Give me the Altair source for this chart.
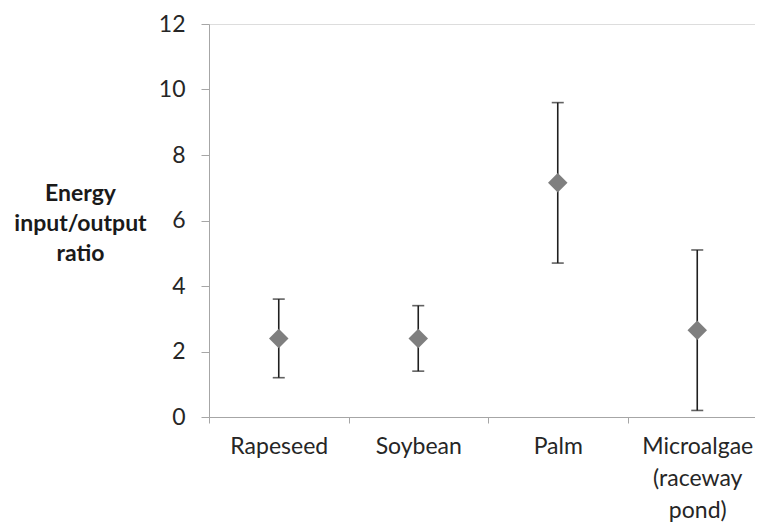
import altair as alt
import pandas as pd

categories = ["Rapeseed", "Soybean", "Palm", "Microalgae (raceway pond)"]
means = [2.4, 2.4, 7.15, 2.65]
lows = [1.2, 1.4, 4.7, 0.2]
highs = [3.6, 3.4, 9.6, 5.1]

df = pd.DataFrame({"cat": categories, "mean": means, "lo": lows, "hi": highs})

FONT = "Lato"
xscale = alt.Scale(domain=categories, range=[0, 558], paddingInner=0, paddingOuter=0)
yscale = alt.Scale(domain=[0, 12], nice=False)

x_enc = alt.X(
    "cat:N",
    sort=categories,
    scale=xscale,
    axis=alt.Axis(
        title=None,
        labelAngle=0,
        tickBand="extent",
        tickSize=6,
        domainColor="#a6a6a6",
        tickColor="#a6a6a6",
        labelColor="#262626",
        labelFont=FONT,
        labelFontSize=23,
        labelPadding=12,
        labelLineHeight=32,
        labelBaseline="top",
        labelExpr="datum.value == 'Microalgae (raceway pond)' ? ['Microalgae', '(raceway', 'pond)'] : datum.label",
    ),
)

y_enc = alt.Y(
    "lo:Q",
    scale=yscale,
    axis=alt.Axis(
        title=["Energy", "input/output", "ratio"],
        titleAngle=0,
        titleAlign="center",
        titleBaseline="middle",
        titleX=-129,
        titleY=169,
        titleFont=FONT,
        titleFontSize=23,
        titleFontWeight="bold",
        titleColor="#1a1a1a",
        titleLineHeight=30,
        values=[0, 2, 4, 6, 8, 10, 12],
        grid=False,
        tickSize=8,
        domainColor="#a6a6a6",
        tickColor="#a6a6a6",
        labelColor="#262626",
        labelFont=FONT,
        labelFontSize=23,
        labelPadding=16,
    ),
)

rules = alt.Chart(df).mark_rule(color="#1f1f1f", strokeWidth=1.6).encode(
    x=x_enc, y=y_enc, y2="hi:Q"
)
cap_lo = alt.Chart(df).mark_tick(color="#1f1f1f", thickness=1.6, size=12).encode(
    x=alt.X("cat:N", sort=categories, scale=xscale), y=alt.Y("lo:Q", scale=yscale)
)
cap_hi = alt.Chart(df).mark_tick(color="#1f1f1f", thickness=1.6, size=12).encode(
    x=alt.X("cat:N", sort=categories, scale=xscale), y=alt.Y("hi:Q", scale=yscale)
)
pts = alt.Chart(df).mark_point(shape="diamond", filled=True, size=380, color="#7f7f7f", opacity=1).encode(
    x=alt.X("cat:N", sort=categories, scale=xscale), y=alt.Y("mean:Q", scale=yscale)
)

chart = (
    alt.layer(rules, cap_lo, cap_hi, pts)
    .properties(
        width=546,
        height=393,
        autosize=alt.AutoSizeParams(type="none"),
        padding={"left": 201, "top": 16, "right": 0, "bottom": 105},
    )
    .configure_view(stroke=None)
    .configure(background="white")
)

chart.save("out.html", embed_options={"renderer": "svg", "actions": False})
